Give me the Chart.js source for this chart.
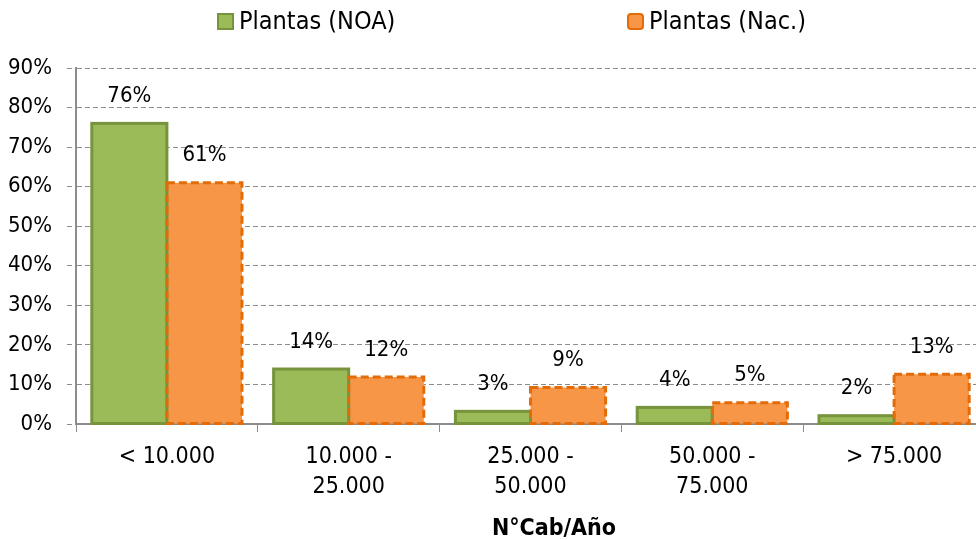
<!DOCTYPE html>
<html>
<head>
<meta charset="utf-8">
<script src="https://cdn.jsdelivr.net/npm/chart.js@4"></script>
<style>
  html, body { margin: 0; padding: 0; background: #fff; overflow: hidden; }
  #wrap { width: 976px; height: 540px; overflow: hidden; }
</style>
</head>
<body>
<div id="wrap"><canvas id="myChart" width="985" height="540"></canvas></div>
<script>
// data
const categories = [["< 10.000"], ["10.000 -", "25.000"], ["25.000 -", "50.000"], ["50.000 -", "75.000"], ["> 75.000"]];
const plantasNOA = [76.0, 13.9, 3.2, 4.2, 2.1];
const plantasNac = [61.0, 11.9, 9.2, 5.4, 12.6];
const seriesNames = ["Plantas (NOA)", "Plantas (Nac.)"];
const axisTitle = "N°Cab/Año";

const FONT = "'DejaVu Sans Condensed', 'DejaVu Sans', sans-serif";
const GRID = "#8c8c8c";

// bar outlines (orange is dashed), value labels, legend and axis title
const extras = {
  id: "extras",
  afterDatasetsDraw(chart) {
    const ctx = chart.ctx;
    chart.data.datasets.forEach((ds, i) => {
      const meta = chart.getDatasetMeta(i);
      meta.data.forEach((bar, j) => {
        const left = bar.x - bar.width / 2;
        ctx.save();
        ctx.lineWidth = 3;
        ctx.strokeStyle = ds.outline;
        ctx.setLineDash(ds.dash);
        ctx.strokeRect(left, bar.y, bar.width, bar.base - bar.y);
        ctx.restore();

        ctx.save();
        ctx.fillStyle = "#000";
        ctx.font = "22px " + FONT;
        ctx.textAlign = "center";
        ctx.textBaseline = "middle";
        ctx.fillText(Math.round(ds.data[j]) + "%", bar.x, bar.y - 27);
        ctx.restore();
      });
    });
  },
  afterDraw(chart) {
    const ctx = chart.ctx;
    ctx.save();
    // legend
    ctx.lineWidth = 2;
    ctx.fillStyle = "#9BBB59";
    ctx.strokeStyle = "#77933C";
    ctx.fillRect(218, 14, 15, 15);
    ctx.strokeRect(218, 14, 15, 15);

    ctx.fillStyle = "#F79646";
    ctx.strokeStyle = "#E36C09";
    ctx.beginPath();
    ctx.roundRect(628, 14, 15, 15, 3);
    ctx.fill();
    ctx.stroke();

    ctx.fillStyle = "#000";
    ctx.font = "25px " + FONT;
    ctx.textAlign = "left";
    ctx.textBaseline = "middle";
    ctx.fillText(seriesNames[0], 239, 22);
    ctx.fillText(seriesNames[1], 649, 22);

    // x axis title
    ctx.font = "bold 23px " + FONT;
    ctx.textAlign = "center";
    ctx.fillText(axisTitle, 554, 529);
    ctx.restore();
  }
};

new Chart(document.getElementById("myChart"), {
  type: "bar",
  data: {
    labels: categories,
    datasets: [
      {
        label: seriesNames[0],
        data: plantasNOA,
        backgroundColor: "#9BBB59",
        borderWidth: 0,
        outline: "#77933C",
        dash: [],
        categoryPercentage: 0.826,
        barPercentage: 1.0,
      },
      {
        label: seriesNames[1],
        data: plantasNac,
        backgroundColor: "#F79646",
        borderWidth: 0,
        outline: "#E36C09",
        dash: [8, 4],
        categoryPercentage: 0.826,
        barPercentage: 1.0,
      },
    ],
  },
  options: {
    responsive: false,
    animation: false,
    devicePixelRatio: 1,
    layout: { padding: { top: 68, left: 0, right: 0, bottom: 0 } },
    plugins: {
      legend: { display: false },
      tooltip: { enabled: false },
    },
    scales: {
      x: {
        afterFit(scale) { scale.height = 116; },
        grid: {
          display: true,
          drawOnChartArea: false,
          drawTicks: true,
          tickLength: 8,
          color: GRID,
          offset: true,
        },
        border: { display: true, color: GRID, width: 2 },
        ticks: {
          color: "#000",
          padding: 10,
          font: { family: FONT, size: 23, lineHeight: 1.3 },
          maxRotation: 0,
          autoSkip: false,
        },
      },
      y: {
        min: 0,
        max: 90,
        afterFit(scale) { scale.width = 76; },
        grid: {
          color: GRID,
          tickLength: 9,
          tickBorderDash: [5, 3],
        },
        border: { display: true, color: GRID, width: 2, dash: [5, 3] },
        ticks: {
          stepSize: 10,
          color: "#000",
          padding: 15,
          font: { family: FONT, size: 22 },
          callback: (v) => v + "%",
        },
      },
    },
  },
  plugins: [extras],
});
</script>
</body>
</html>
